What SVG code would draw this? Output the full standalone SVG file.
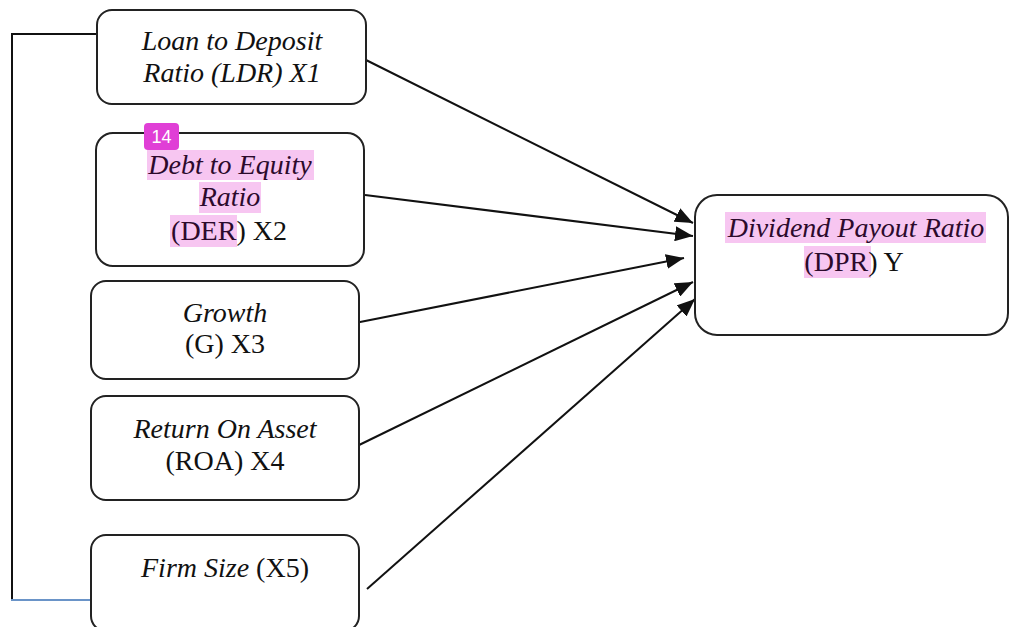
<svg xmlns="http://www.w3.org/2000/svg" width="1009" height="627" viewBox="0 0 1009 627">
<style>
.box{fill:#fff;stroke:#222;stroke-width:2}
.t{font-family:"Liberation Serif","Times New Roman",serif;font-size:28px;fill:#111;text-anchor:middle}
.i{font-style:italic}
.hl{fill:#f7c6f1}
.hd{fill:#2c0a2c}
.c{stroke:#111;stroke-width:2;fill:none}
</style>
<defs>
<marker id="ah" markerUnits="userSpaceOnUse" markerWidth="19" markerHeight="15" refX="18" refY="7.5" orient="auto">
<path d="M0,0 L18,7.5 L0,15 Z" fill="#111"/>
</marker>
</defs>
<rect width="1009" height="627" fill="#fff"/>
<g id="connectors">
<polyline class="c" points="97,34 12,34 12,600"/>
<line x1="11" y1="600" x2="91" y2="600" stroke="#6a94c8" stroke-width="2"/>
<line class="c" x1="366" y1="60" x2="693" y2="223" marker-end="url(#ah)"/>
<line class="c" x1="365" y1="195" x2="693" y2="236" marker-end="url(#ah)"/>
<line class="c" x1="355" y1="323" x2="684" y2="258" marker-end="url(#ah)"/>
<line class="c" x1="355" y1="447" x2="693" y2="282" marker-end="url(#ah)"/>
<line class="c" x1="367" y1="589" x2="695" y2="299" marker-end="url(#ah)"/>
</g>
<g id="ldr">
<rect class="box" x="97" y="10" width="269" height="94" rx="15"/>
<text class="t i" x="232" y="50">Loan to Deposit</text>
<text class="t i" x="232" y="82">Ratio (LDR) X1</text>
</g>
<g id="der">
<rect class="box" x="96" y="133" width="268" height="133" rx="17"/>
<rect class="hl" x="147" y="150" width="167" height="30"/>
<rect class="hl" x="199" y="182" width="62" height="31"/>
<rect class="hl" x="170" y="215" width="67" height="32"/>
<text class="t i hd" x="230" y="174">Debt to Equity</text>
<text class="t i hd" x="230" y="206">Ratio</text>
<text class="t" x="229" y="240"><tspan class="hd">(DER</tspan>) X2</text>
<rect x="144" y="123" width="35" height="27" rx="4" fill="#e03fd6"/>
<text x="161.5" y="143" font-family="'Liberation Sans',Arial,sans-serif" font-size="18" fill="#fff" text-anchor="middle">14</text>
</g>
<g id="growth">
<rect class="box" x="91" y="281" width="268" height="98" rx="15"/>
<text class="t i" x="225" y="322">Growth</text>
<text class="t" x="225" y="353">(G) X3</text>
</g>
<g id="roa">
<rect class="box" x="91" y="396" width="268" height="104" rx="15"/>
<text class="t i" x="225" y="438">Return On Asset</text>
<text class="t" x="225" y="470">(ROA) X4</text>
</g>
<g id="size">
<rect class="box" x="91" y="535" width="268" height="96" rx="15"/>
<text class="t" x="225" y="577"><tspan class="i">Firm Size</tspan> (X5)</text>
</g>
<g id="dpr">
<rect class="box" x="695" y="195" width="313" height="140" rx="22"/>
<rect class="hl" x="725" y="212" width="261" height="31"/>
<rect class="hl" x="804" y="246" width="67" height="32"/>
<text class="t i hd" x="856" y="237">Dividend Payout Ratio</text>
<text class="t" x="854" y="271"><tspan class="hd">(DPR</tspan>) Y</text>
</g>
</svg>
